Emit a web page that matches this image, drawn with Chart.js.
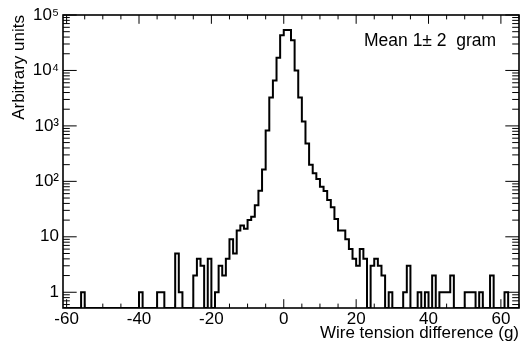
<!DOCTYPE html>
<html>
<head>
<meta charset="utf-8">
<script src="https://cdn.jsdelivr.net/npm/chart.js@4"></script>
<style>
  body { margin: 0; background: #fff; }
  canvas { display: block; }
</style>
</head>
<body>
<canvas id="tension-chart" width="520" height="347"></canvas>
<script>
// Wire tension difference histogram (ROOT style, log y)

const binLow = -61;
const binWidth = 1;

// counts for bins [-61,-60] ... [-1,0]
const countsNeg = [
    0, 0, 0, 0, 0, 1, 0, 0, 0, 0,
    0, 0, 0, 0, 0, 0, 0, 0, 0, 0,
    0, 1, 0, 0, 0, 0, 1, 1, 0, 0,
    0, 5, 1, 0, 0, 0, 2, 4, 3, 0,
    4, 0, 1, 3, 2, 4, 9, 5, 13, 16,
    14, 20, 23, 37, 68, 163, 830, 3240, 6600, 17000,
    43000
];

// counts for bins [0,1] ... [64,65]
const countsPos = [
    53500, 53500, 35000, 10000, 3240, 1200, 480, 200, 140, 110,
    80, 67, 46, 34, 21, 13, 13, 9, 6, 4,
    3, 6, 4, 0, 3, 4, 3, 2, 0, 1,
    0, 0, 0, 1, 3, 0, 0, 1, 0, 1,
    0, 2, 0, 1, 1, 1, 2, 0, 0, 0,
    1, 1, 1, 0, 1, 0, 0, 2, 0, 0,
    0, 1, 0, 0, 0
];

const xMajorTicks = [-60, -40, -20, 0, 20, 40, 60];
const xMinorStep = 5;
const yDecades = [1, 10, 100, 1000, 10000, 100000];
const yDecadeLabels = ['1', '10', '10\u00b2', '10\u00b3', '10\u2074', '10\u2075'];
const yMin = 0.52;
const yMax = 100000;
const xMin = -61;
const xMax = 65;
const statText = 'Mean 1\u00b1 2  gram';

// empty bins sit on the bottom of the log axis
const counts = countsNeg.concat(countsPos);
const histPoints = counts.map((c, i) => ({ x: binLow + i * binWidth, y: c > 0 ? c : yMin }));
histPoints.push({ x: binLow + counts.length * binWidth, y: yMin });

Chart.defaults.font.family = "'Liberation Sans', Arial, sans-serif";
Chart.defaults.color = '#000';

// ROOT-like frame with ticks pointing inwards on all four sides
const rootFrame = {
    id: 'rootFrame',
    afterDatasetsDraw(chart) {
        const ctx = chart.ctx;
        const area = chart.chartArea;
        const xs = chart.scales.x;
        const ys = chart.scales.y;
        ctx.save();
        ctx.strokeStyle = '#000';
        ctx.lineWidth = 1;
        ctx.beginPath();
        xs.ticks.forEach(t => {
            const px = xs.getPixelForValue(t.value);
            const len = xMajorTicks.includes(t.value) ? 8.8 : 4.4;
            ctx.moveTo(px, area.bottom);
            ctx.lineTo(px, area.bottom - len);
            ctx.moveTo(px, area.top);
            ctx.lineTo(px, area.top + len);
        });
        ys.ticks.forEach(t => {
            const py = ys.getPixelForValue(t.value);
            const len = yDecades.includes(t.value) ? 13.7 : 6.8;
            ctx.moveTo(area.left, py);
            ctx.lineTo(area.left + len, py);
            ctx.moveTo(area.right, py);
            ctx.lineTo(area.right - len, py);
        });
        ctx.stroke();
        ctx.lineWidth = 1.6;
        ctx.strokeRect(area.left, area.top, area.right - area.left, area.bottom - area.top);

        ctx.fillStyle = '#000';
        ctx.font = "17.5px 'Liberation Sans', Arial, sans-serif";
        ctx.textAlign = 'left';
        ctx.textBaseline = 'alphabetic';
        ctx.fillText(statText, area.right - 155, area.top + 30.5);
        ctx.restore();
    }
};

new Chart(document.getElementById('tension-chart').getContext('2d'), {
    type: 'line',
    data: {
        datasets: [{
            label: 'tension',
            data: histPoints,
            borderColor: '#000',
            borderWidth: 2,
            stepped: 'before',
            fill: false,
            pointRadius: 0,
            tension: 0
        }]
    },
    options: {
        responsive: false,
        animation: false,
        devicePixelRatio: 1,
        layout: { padding: { top: 15, right: 1, left: 0, bottom: 0 } },
        plugins: {
            legend: { display: false },
            tooltip: { enabled: false }
        },
        scales: {
            x: {
                type: 'linear',
                min: xMin,
                max: xMax,
                afterBuildTicks: scale => {
                    const ticks = [];
                    for (let v = -60; v <= xMax; v += xMinorStep) ticks.push({ value: v });
                    scale.ticks = ticks;
                },
                afterFit: scale => { scale.height = 39; },
                grid: { display: false, drawTicks: false },
                border: { display: false },
                ticks: {
                    autoSkip: false,
                    maxRotation: 0,
                    padding: 1,
                    font: { size: 17 },
                    callback: v => xMajorTicks.includes(v) ? String(v) : ''
                },
                title: {
                    display: true,
                    text: 'Wire tension difference (g)',
                    align: 'end',
                    font: { size: 17 },
                    padding: { top: 0, bottom: 3 }
                }
            },
            y: {
                type: 'logarithmic',
                min: yMin,
                max: yMax,
                afterBuildTicks: scale => {
                    const ticks = [];
                    [0.6, 0.7, 0.8, 0.9].forEach(v => ticks.push({ value: v }));
                    yDecades.forEach(d => {
                        for (let k = 1; k <= 9; k++) {
                            const v = d * k;
                            if (v <= yMax) ticks.push({ value: v });
                        }
                    });
                    scale.ticks = ticks;
                },
                afterFit: scale => { scale.width = 63; },
                grid: { display: false, drawTicks: false },
                border: { display: false },
                ticks: {
                    autoSkip: false,
                    padding: 4,
                    font: { size: 17 },
                    callback: v => {
                        const i = yDecades.indexOf(v);
                        return i >= 0 ? yDecadeLabels[i] : '';
                    }
                },
                title: {
                    display: true,
                    text: 'Arbitrary units',
                    align: 'end',
                    font: { size: 17 },
                    padding: { top: 9, bottom: 0 }
                }
            }
        }
    },
    plugins: [rootFrame]
});
</script>
</body>
</html>
